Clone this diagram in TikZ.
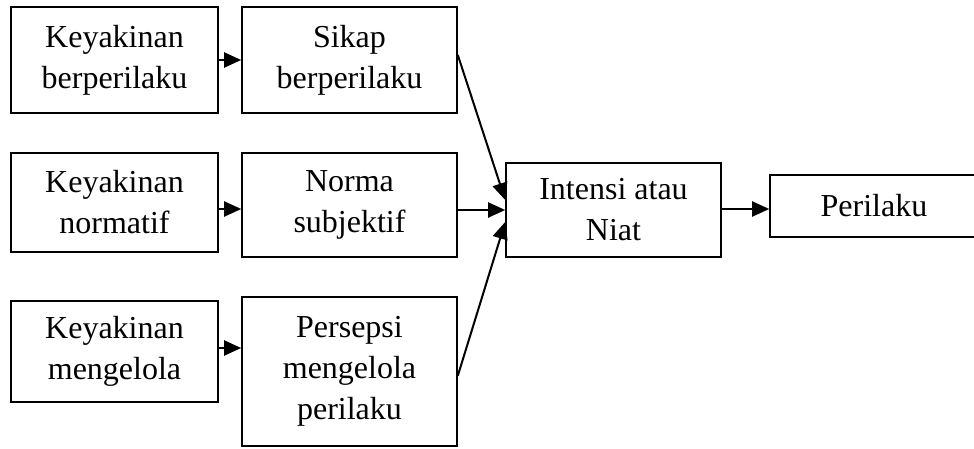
\documentclass[tikz,border=0pt]{standalone}
\usepackage{fontspec}
\setmainfont{Liberation Serif}
\usetikzlibrary{arrows.meta}
\begin{document}
\begin{tikzpicture}[x=1pt,y=1pt,
  box/.style={draw=black, line width=1.6pt, rectangle, align=center, inner sep=0pt,
    font=\fontsize{32}{41}\selectfont},
  arr/.style={line width=2pt, -{Triangle[length=17pt,width=15pt]}}]
\clip (0,0) rectangle (974,448);
\fill[white] (0,0) rectangle (974,448);
% y up: Y = 448 - y
\node[box, minimum width=207pt, minimum height=106pt] (b1) at (114.5,388) {Keyakinan\\berperilaku};
\node[box, minimum width=215pt, minimum height=106pt] (b2) at (349.5,388) {Sikap\\berperilaku};
\node[box, minimum width=207pt, minimum height=99pt] (b3) at (114.5,245.5) {Keyakinan\\normatif};
\node[box, minimum width=215pt, minimum height=104pt] (b4) at (349.5,243) {Norma\\subjektif};
\node[box, minimum width=207pt, minimum height=101pt] (b5) at (114.5,96.5) {Keyakinan\\mengelola};
\node[box, minimum width=215pt, minimum height=149pt] (b6) at (349.5,76.5) {Persepsi\\mengelola\\perilaku};
\node[box, minimum width=215pt, minimum height=94pt] (b7) at (613.5,238) {Intensi atau\\Niat};
\node[box, minimum width=208pt, minimum height=62pt] (b8) at (874,242) {Perilaku};
\draw[arr] (b1.east) -- (b2.west);
\draw[arr] ([yshift=-6.5pt]b3.east) -- ([yshift=-6.5pt]b3.east -| b4.west);
\draw[arr] ([yshift=3.5pt]b5.east) -- ([yshift=3.5pt]b5.east -| b6.west);
\draw[arr] ([yshift=-5pt]b4.east) -- ([yshift=-5pt]b4.east -| b7.west);
\draw[arr] ([yshift=5pt]b2.east) -- ([yshift=10pt]b7.west);
\draw[arr] ([yshift=71pt]b6.south east) -- ([yshift=-12pt]b7.west);
\draw[arr] ([yshift=1pt]b7.east) -- ([yshift=1pt]b7.east -| b8.west);
\end{tikzpicture}
\end{document}
